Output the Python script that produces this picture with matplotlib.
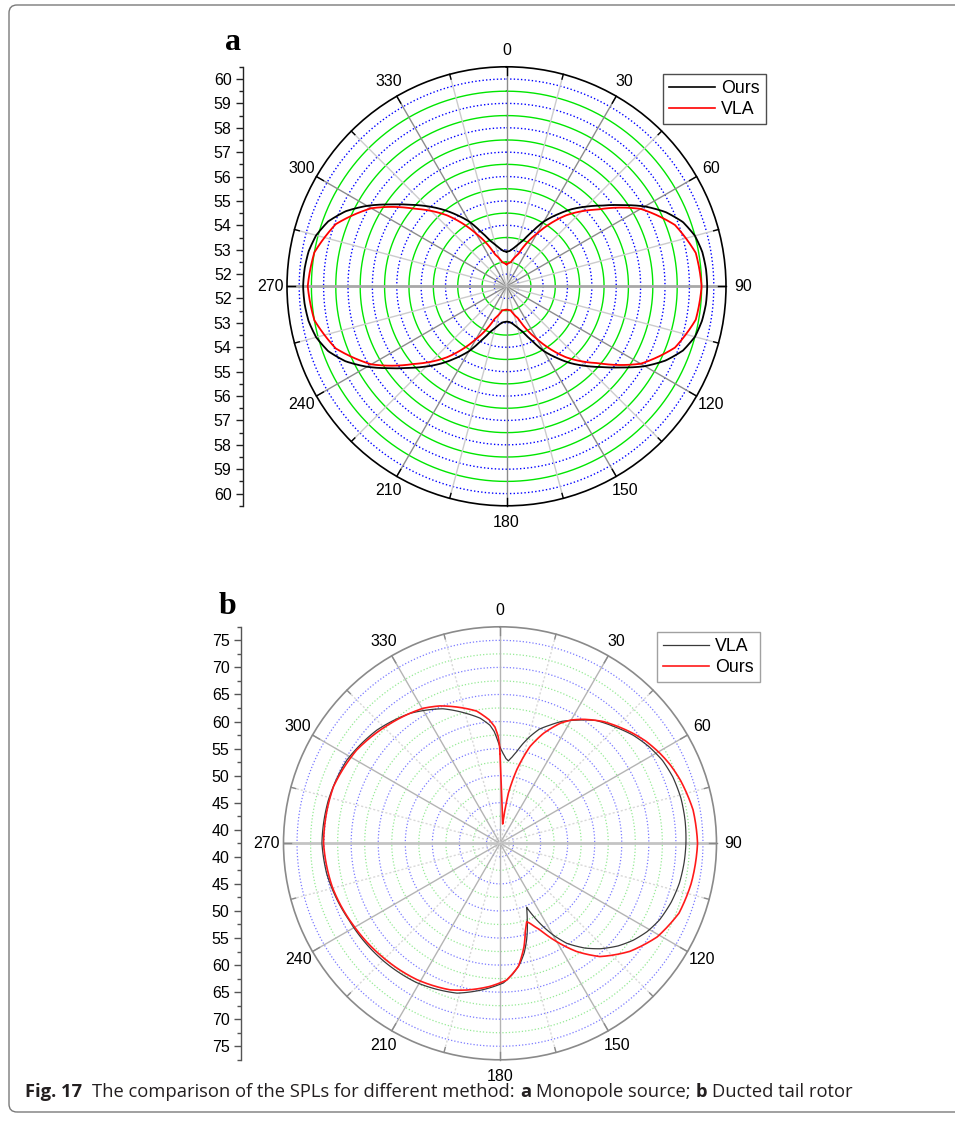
import numpy as np
import matplotlib
matplotlib.use("Agg")
import matplotlib.pyplot as plt
from matplotlib.lines import Line2D
from matplotlib.patches import FancyBboxPatch
from matplotlib.transforms import IdentityTransform

# ---------------- data ----------------
# (a) Monopole source: SPL (dB) versus directivity angle (deg)
mono_theta_ours = np.arange(0, 361, 5)
mono_ours = [52.92, 52.95, 53.07, 53.25, 53.5, 53.95, 54.57, 55.08, 55.62, 56.12,
             56.65, 57.3, 58.05, 58.7, 59.2, 59.5, 59.65, 59.71, 59.73,
             59.71, 59.64, 59.5, 59.2, 58.7, 58.05, 57.3, 56.65, 56.12, 55.62,
             55.08, 54.57, 53.95, 53.5, 53.25, 53.07, 52.97, 52.95,
             52.97, 53.07, 53.25, 53.5, 53.95, 54.57, 55.08, 55.62, 56.15, 56.7,
             57.35, 58.1, 58.78, 59.28, 59.58, 59.74, 59.81, 59.84,
             59.81, 59.74, 59.58, 59.28, 58.78, 58.1, 57.35, 56.7, 56.15, 55.62,
             55.08, 54.57, 53.95, 53.5, 53.25, 53.07, 52.95, 52.92]
mono_theta_vla = np.arange(0, 361, 10)
mono_vla = [52.4, 52.5, 52.9, 54.0, 55.3, 56.4, 57.85, 58.85, 59.38, 59.5,
            59.38, 58.85, 57.85, 56.4, 55.3, 54.0, 52.9, 52.5, 52.45,
            52.5, 52.9, 54.0, 55.3, 56.45, 57.9, 58.95, 59.5, 59.65,
            59.5, 58.95, 57.9, 56.45, 55.3, 54.0, 52.9, 52.5, 52.4]

# (b) Ducted tail rotor: SPL (dB) versus directivity angle (deg)
rotor_theta_vla = [0, 2, 4, 5.8, 8, 10.3, 13, 15.7, 19, 22.9, 27, 31.9, 38, 45,
                   51, 57, 63, 69, 76, 83, 90, 96, 102.5, 109, 115.6, 121, 126,
                   131, 136.4, 141, 146.3, 150, 152.5, 154.5, 156.3, 157.4, 158.8,
                   160.4, 162.5, 164.6, 167.5, 170.5, 174.5, 178.6, 186.5, 196,
                   211, 225, 243, 260, 270, 284, 298.5, 312.6, 325.3, 337, 345.4,
                   351, 355.1, 357, 359, 360]
rotor_vla = [55.2, 54.1, 53.2, 52.8, 53.6, 54.7, 56.4, 58.0, 59.8, 61.2, 62.8,
             64.3, 66.3, 67.8, 69.2, 70.3, 71.2, 71.7, 71.95, 71.95, 71.85, 71.7,
             71.45, 70.95, 70.2, 69.2, 67.95, 66.4, 64.4, 62.4, 59.7, 57.0, 54.9,
             53.1, 51.4, 50.3, 51.3, 52.5, 54.3, 56.0, 58.2, 60.0, 61.8, 63.3,
             64.7, 66.3, 67.5, 68.1, 68.8, 70.0, 70.4, 70.2, 69.7, 68.4, 66.7,
             64.5, 62.3, 60.9, 59.4, 58.2, 56.2, 55.2]
rotor_theta_ours = [0, 0.5, 1, 2, 4, 6, 7.9, 8.2, 9.5, 12.8, 17.2, 21.5, 26.6, 30,
                    33.9, 40.3, 45, 50.5, 55, 60.6, 65, 70.6, 80.2, 90, 101.8,
                    111.3, 120.8, 129.8, 138.6, 144.7, 150, 155.2, 159.4, 161.2,
                    163.7, 166.9, 171.5, 177.2, 184, 192.8, 198.8, 211.4, 225.8,
                    240, 255, 270, 288.8, 303, 317.5, 330.4, 336.4, 342, 350, 355,
                    357.5, 359, 359.7, 360]
rotor_ours = [54.0, 51.0, 49.0, 46.1, 43.3, 41.9, 41.1, 43.1, 46.9, 51.4, 56.2,
              59.3, 62.3, 63.8, 65.1, 67.0, 68.1, 69.4, 70.4, 71.4, 72.1, 72.8,
              73.7, 74.0, 73.6, 73.0, 71.3, 68.7, 65.4, 62.0, 58.5, 55.1, 53.3,
              52.8, 54.2, 57.1, 60.5, 62.8, 64.0, 65.3, 66.1, 67.0, 67.7, 68.5,
              69.5, 70.1, 70.0, 69.1, 67.5, 66.2, 65.2, 64.0, 62.3, 60.4, 59.0,
              57.3, 55.7, 54.0]

theta_label_deg = list(range(0, 360, 30))
mono_axis_labels = [60, 59, 58, 57, 56, 55, 54, 53, 52, 52, 53, 54, 55, 56, 57, 58, 59, 60]
rotor_axis_labels = [75, 70, 65, 60, 55, 50, 45, 40, 40, 45, 50, 55, 60, 65, 70, 75]

# ---------------- figure ----------------
W, H = 955, 1125
fig = plt.figure(figsize=(W / 100, H / 100), dpi=100)
fig.patch.set_facecolor("white")
SANS = "Liberation Sans"
NUM_FS = 11.5


def px_rect(x0, y0, x1, y1):
    """Pixel box (origin top-left) -> figure-fraction rect."""
    return [x0 / W, 1 - y1 / H, (x1 - x0) / W, (y1 - y0) / H]


def polar_curve(ax, theta_deg, values, **kw):
    ln, = ax.plot(np.deg2rad(theta_deg), values, **kw)
    # follow the polar coordinates between samples instead of straight chords
    ln.get_path()._interpolation_steps = 40
    return ln


def polar_panel(cx, cy, R, rmin, rmax, step, sty):
    ax = fig.add_axes(px_rect(cx - R, cy - R, cx + R, cy + R), projection="polar")
    ax.set_theta_zero_location("N")
    ax.set_theta_direction(-1)
    ax.set_ylim(rmin, rmax)
    ax.set_thetagrids(theta_label_deg, [str(d) for d in theta_label_deg])
    ax.set_yticks([])
    ax.grid(False)
    ax.tick_params(axis="x", length=0, pad=sty["pad"], labelsize=NUM_FS)
    for lab in ax.get_xticklabels():
        lab.set_fontfamily(SANS)
    ax.spines["polar"].set_color(sty["spine"])
    ax.spines["polar"].set_linewidth(sty["spine_lw"])

    th = np.linspace(0, 2 * np.pi, 1441)
    levels = np.arange(rmin + step, rmax - step / 2, step)
    for i, v in enumerate(levels):
        if i % 2 == 0:
            ax.plot(th, np.full_like(th, v), color=sty["blue"], lw=sty["blue_lw"],
                    ls=(0, (1, 1.6)), zorder=1)
        else:
            ax.plot(th, np.full_like(th, v), color=sty["green"], lw=sty["green_lw"],
                    ls=sty["green_ls"], zorder=1)

    span = rmax - rmin
    for d in range(0, 360, 15):
        t = np.deg2rad(d)
        if d % 90 == 0 and d % 180 != 0:
            ax.plot([t, t], [rmin, rmax], color=sty["axis_c"], lw=2.0, zorder=1.5)
        elif d % 30 == 0:
            ax.plot([t, t], [rmin, rmax], color=sty["major_c"], lw=1.0, zorder=1.5)
        else:
            ax.plot([t, t], [rmin, rmax], color=sty["minor_c"], lw=1.0,
                    ls=sty["minor_ls"], zorder=1.5)
        L = (8 if d % 30 == 0 else 5) / R * span
        ax.plot([t, t], [rmax - L, rmax], color=sty["spine"], lw=1.0, zorder=2,
                clip_on=False)
    return ax


def side_axis(x, ytop, ybot, half, labels, major_step, color):
    ax = fig.add_axes(px_rect(x, ytop, x + 1, ybot))
    ax.set_ylim(-half, half)
    ax.set_xlim(0, 1)
    for s in ("top", "right", "bottom"):
        ax.spines[s].set_visible(False)
    ax.spines["left"].set_color(color)
    ax.spines["left"].set_linewidth(1.0)
    ax.set_xticks([])
    n = len(labels) // 2
    pos = [half - major_step / 2 - major_step * i for i in range(n)]
    pos = pos + [-p for p in pos[::-1]]
    ax.set_yticks(pos)
    ax.set_yticklabels([str(v) for v in labels], fontfamily=SANS, fontsize=NUM_FS)
    ax.set_yticks(np.arange(-half, half + 1e-9, major_step / 2), minor=True)
    ax.tick_params(axis="y", which="major", direction="out", length=5, width=1,
                   pad=3, color=color)
    ax.tick_params(axis="y", which="minor", direction="out", length=3, width=1,
                   color=color)
    ax.patch.set_visible(False)
    return ax


def legend_box(ax, handles, labels, x, y, edge):
    leg = ax.legend(handles, labels, loc="upper left",
                    bbox_to_anchor=(x / W, 1 - y / H), bbox_transform=fig.transFigure,
                    frameon=True, fancybox=False, prop=dict(family=SANS, size=12.8),
                    handlelength=2.6, handletextpad=0.35, labelspacing=0.22,
                    borderpad=0.33, borderaxespad=0)
    leg.get_frame().set_edgecolor(edge)
    leg.get_frame().set_linewidth(1.0)
    return leg


# ---- panel (a) ----
sty_a = dict(pad=5.0, spine="black", spine_lw=1.2,
             blue="#0000ff", blue_lw=1.0, green="#00e600", green_lw=1.0,
             green_ls="-", axis_c="#a8a8a8", major_c="#8c8c8c",
             minor_c="#cccccc", minor_ls="-")
ax_a = polar_panel(506.5, 286.3, 219.5, 51.5, 60.5, 0.5, sty_a)
polar_curve(ax_a, mono_theta_ours, mono_ours, color="black", lw=1.3, zorder=5)
polar_curve(ax_a, mono_theta_vla, mono_vla, color="#ff0000", lw=1.3, zorder=6)
legend_box(ax_a,
           [Line2D([], [], color="black", lw=1.2), Line2D([], [], color="#ff0000", lw=1.2)],
           ["Ours", "VLA"], 663, 74, "#222222")
side_axis(242.7, 66.8, 505.8, 9.0, mono_axis_labels, 1.0, "#222222")

# ---- panel (b) ----
sty_b = dict(pad=5.0, spine="#8a8a8a", spine_lw=1.2,
             blue="#7a7aff", blue_lw=0.9, green="#96ea96", green_lw=0.9,
             green_ls=(0, (1, 1.6)), axis_c="#c4c4c4", major_c="#b4b4b4",
             minor_c="#d8d8d8", minor_ls=(0, (1.5, 1.5)))
ax_b = polar_panel(500.0, 843.3, 216.5, 37.5, 77.5, 2.5, sty_b)
polar_curve(ax_b, rotor_theta_vla, rotor_vla, color="#3a3a3a", lw=0.9, zorder=5)
polar_curve(ax_b, rotor_theta_ours, rotor_ours, color="#ff1a1a", lw=1.2, zorder=6)
legend_box(ax_b,
           [Line2D([], [], color="#3a3a3a", lw=0.9), Line2D([], [], color="#ff1a1a", lw=1.2)],
           ["VLA", "Ours"], 657, 632, "#8a8a8a")
side_axis(240.7, 626.8, 1059.8, 40.0, rotor_axis_labels, 5.0, "#555555")

# ---- panel letters ----
fig.text(233 / W, 1 - 50 / H, "a", family="Liberation Serif", weight="bold",
         fontsize=23, ha="center", va="baseline")
fig.text(227 / W, 1 - 614 / H, "b", family="Liberation Serif", weight="bold",
         fontsize=23, ha="center", va="baseline")

# ---- caption ----
renderer = fig.canvas.get_renderer()
parts = [("Fig. 17", True, 10), ("The comparison of the SPLs for different method:", False, 5),
         ("a", True, 5), ("Monopole source;", False, 5), ("b", True, 5),
         ("Ducted tail rotor", False, 0)]
x = 25.0
for s, bold, gap in parts:
    t = fig.text(x / W, 1 - 1097 / H, s, family="Open Sans",
                 weight="bold" if bold else "normal", fontsize=13.2,
                 ha="left", va="baseline", color="#231f20")
    x += t.get_window_extent(renderer=renderer).width + gap

# ---- frame ----
frame = FancyBboxPatch((9, H - 1112), 990, 1107, boxstyle="round,pad=0,rounding_size=8",
                       transform=IdentityTransform(), facecolor="none",
                       edgecolor="#7a7a7a", lw=1.0)
fig.patches.append(frame)

fig.savefig("out.png", dpi=100, facecolor="white")
